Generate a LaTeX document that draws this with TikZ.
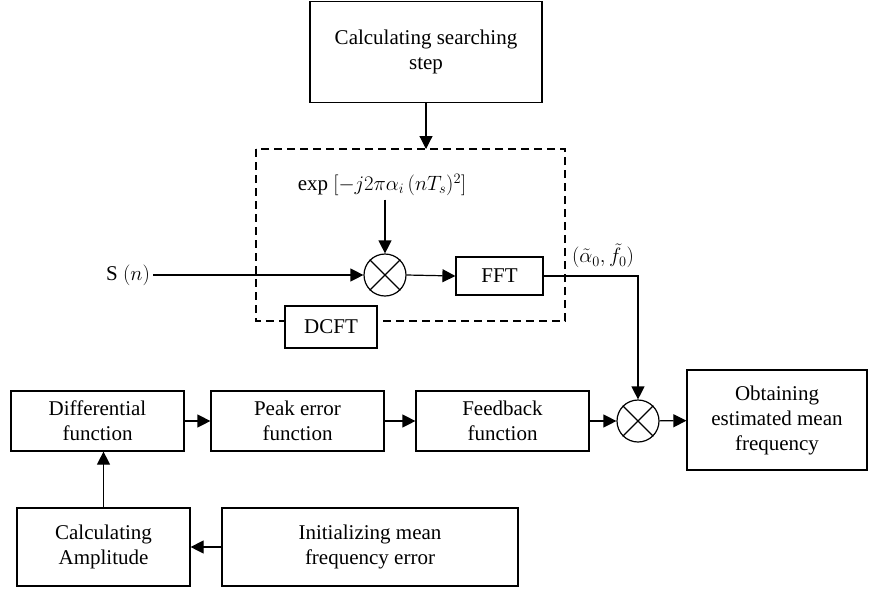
\documentclass[tikz,border=0pt]{standalone}
\usepackage{fontspec}
\setmainfont{Liberation Serif}
\usepackage{tikz}
\usetikzlibrary{arrows.meta,calc}
\tikzstyle{process} = [rectangle, draw, text centered, align=center, line width=1.2pt, inner sep=0pt]
\tikzstyle{mixer} = [circle, draw, line width=1.2pt, minimum size=42pt, inner sep=0pt]
\tikzstyle{connector} = [line width=1.2pt,-{Triangle[length=13pt,width=13pt]}]

\begin{document}
\begin{tikzpicture}[x=1pt,y=-1pt,every node/.style={font=\fontsize{21}{25}\selectfont}]
    \useasboundingbox (0,0) rectangle (869,595);
    % DCFT part
    \node (search) [process,minimum width=232pt,minimum height=101pt] at (426,52) {Calculating searching\\step};
    \coordinate (frametl) at (256,149);
    \coordinate (framebr) at (565,321);
    \draw [line width=1.2pt,dash pattern=on 8pt off 5pt] (frametl) rectangle (framebr);
    \node (chirp) at (382,185) {exp $[-j2\pi\alpha_i\,(nT_s)^2]$};
    \node (mul1) [mixer] at (385,275) {};
    \node (fft) [process,minimum width=87pt,minimum height=38pt] at (499.5,276) {FFT};
    \node (signal) at (128,275) {S $(n)$};
    \node (dcft) [process,fill=white,minimum width=92pt,minimum height=42pt] at (331,327) {DCFT};
    \node (est) at (603,256) {$(\tilde{\alpha}_0, \tilde{f}_0)$};
    % feedback part
    \node (diff) [process,minimum width=173pt,minimum height=60pt] at (97.5,421) {Differential\\function};
    \node (peak) [process,minimum width=173pt,minimum height=60pt] at (297.5,421) {Peak error\\function};
    \node (feedback) [process,minimum width=173pt,minimum height=60pt] at (502.5,421) {Feedback\\function};
    \node (mul2) [mixer] at (638,421) {};
    \node (obtain) [process,minimum width=180pt,minimum height=100pt] at (777,420) {Obtaining\\estimated mean\\frequency};
    \node (amp) [process,minimum width=173pt,minimum height=78pt] at (103.5,547) {Calculating\\Amplitude};
    \node (init) [process,minimum width=296pt,minimum height=78pt] at (370,547) {Initializing mean\\frequency error};
    \foreach \m in {mul1,mul2}
        \draw [line width=1.2pt] (\m.north west) -- (\m.south east) (\m.north east) -- (\m.south west);
    \draw [connector] (search.south) -- (search.south |- frametl);
    \draw [connector] (chirp.south -| mul1.north) -- (mul1.north);
    \draw [connector] (signal.east) -- (mul1.west);
    \draw [connector] (mul1.east) -- (fft.west);
    \draw [connector] (fft.east) -| (mul2.north);
    \draw [connector] (diff) -- (peak);
    \draw [connector] (peak) -- (feedback);
    \draw [connector] (feedback) -- (mul2);
    \draw [connector] (mul2) -- (obtain);
    \draw [connector] (init) -- (amp);
    \draw [connector] (amp.north) -- (amp.north |- diff.south);
\end{tikzpicture}
\end{document}
